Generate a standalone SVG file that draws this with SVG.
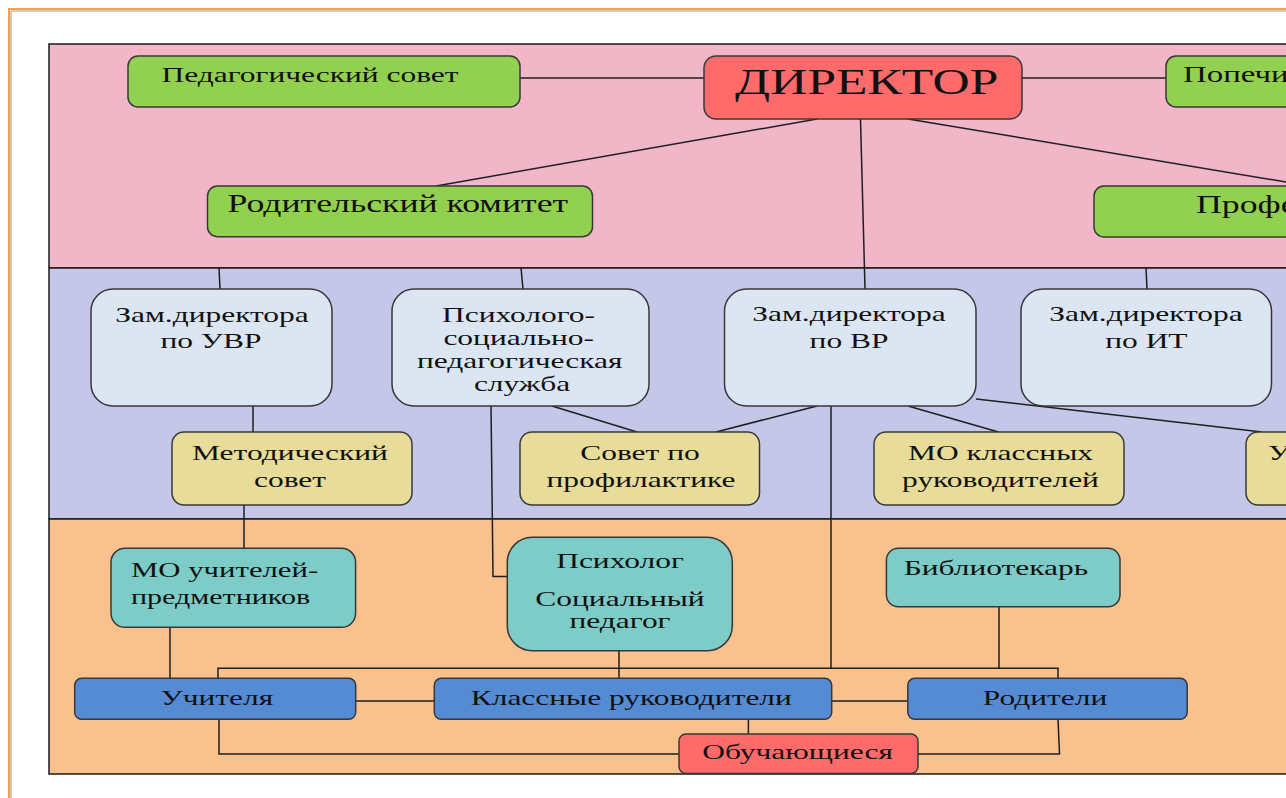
<svg xmlns="http://www.w3.org/2000/svg" width="1286" height="798" viewBox="0 0 1286 798">
<style>
.band{stroke:#1a1a1a;stroke-width:1.5}
.n{stroke:#383838;stroke-width:1.5}
.green{fill:#92D050}
.red{fill:#FF6B6B}
.lb{fill:#DCE6F2}
.kh{fill:#E7DC99}
.teal{fill:#7ECCC7}
.blue{fill:#558BD3}
.c{fill:none;stroke:#1f1f1f;stroke-width:1.5}
text{font-family:"Liberation Serif","Times New Roman",serif;font-size:22px;fill:#111;text-anchor:middle}
.s{text-anchor:start}
</style>
<rect x="0" y="0" width="1286" height="798" fill="#ffffff"/>
<path d="M9,798 V9 H1286" fill="none" stroke="#F0A24E" stroke-width="2"/>
<path d="M11,798 V11 H1286" fill="none" stroke="#9a9a9a" stroke-width="1"/>
<g id="bands">
<rect class="band" x="49" y="44" width="1300" height="224" fill="#F1B6C7"/>
<rect class="band" x="49" y="268" width="1300" height="251" fill="#C4C7E7"/>
<rect class="band" x="49" y="519" width="1300" height="255" fill="#F8C18E"/>
</g>
<g id="connectors">
<path class="c" d="M520,78 H704"/>
<path class="c" d="M1022,78 H1166"/>
<path class="c" d="M817,119 L436,186"/>
<path class="c" d="M860.5,119 L865,289"/>
<path class="c" d="M908,119 L1286,182"/>
<path class="c" d="M219,268 L220,289"/>
<path class="c" d="M521,268 L523,289"/>
<path class="c" d="M1146,268 L1147,289"/>
<path class="c" d="M253,406 V432"/>
<path class="c" d="M552,406 L637,432"/>
<path class="c" d="M817,406 L716,432"/>
<path class="c" d="M908,406 L998.5,432"/>
<path class="c" d="M976,399 L1262,432"/>
<path class="c" d="M831,406 V668.3"/>
<path class="c" d="M491,406 L493,576.5 H507.3"/>
<path class="c" d="M244,505 V548.3"/>
<path class="c" d="M170,627.3 V678.3"/>
<path class="c" d="M619,650.7 V678.3"/>
<path class="c" d="M999,606.7 V668.3"/>
<path class="c" d="M218,678.3 V668.3 H1058 V678.3"/>
<path class="c" d="M355.6,701 H434.3"/>
<path class="c" d="M831.7,701 H907.8"/>
<path class="c" d="M748.4,719.3 V734"/>
<path class="c" d="M219,719.3 V754 H679"/>
<path class="c" d="M1058,719.3 L1059.5,754 H918"/>
</g>
<g id="ped_sovet">
<rect class="n green" x="128" y="56" width="392" height="51" rx="10"/>
<text transform="matrix(1.43 0 0 1 310 82)">Педагогический совет</text>
</g>
<g id="director">
<rect class="n red" x="704" y="56" width="318" height="63" rx="12"/>
<text transform="matrix(1.43 0 0 1 866.7 94)" style="font-size:36px">ДИРЕКТОР</text>
</g>
<g id="popech">
<rect class="n green" x="1166" y="56" width="300" height="51" rx="10"/>
<text class="s" transform="matrix(1.43 0 0 1 1183 82)" style="font-size:23px">Попечительский совет</text>
</g>
<g id="rod_komitet">
<rect class="n green" x="207.5" y="186" width="385" height="50.7" rx="10"/>
<text transform="matrix(1.43 0 0 1 397.8 212)" style="font-size:25px">Родительский комитет</text>
</g>
<g id="prof">
<rect class="n green" x="1094" y="186" width="400" height="51" rx="10"/>
<text class="s" transform="matrix(1.43 0 0 1 1196 213)" style="font-size:25px">Профессиональный союз</text>
</g>
<g id="zam_uvr">
<rect class="n lb" x="91" y="289" width="241" height="117" rx="22"/>
<text transform="matrix(1.43 0 0 1 212 321.7)">Зам.директора</text>
<text transform="matrix(1.43 0 0 1 211 348.3)">по УВР</text>
</g>
<g id="psp_service">
<rect class="n lb" x="392" y="289" width="257" height="117" rx="22"/>
<text transform="matrix(1.43 0 0 1 518.5 321.7)">Психолого-</text>
<text transform="matrix(1.43 0 0 1 518.7 345)">социально-</text>
<text transform="matrix(1.43 0 0 1 519.7 368.3)">педагогическая</text>
<text transform="matrix(1.43 0 0 1 522 391)">служба</text>
</g>
<g id="zam_vr">
<rect class="n lb" x="724.5" y="289" width="251.5" height="117" rx="22"/>
<text transform="matrix(1.43 0 0 1 849 321)">Зам.директора</text>
<text transform="matrix(1.43 0 0 1 849 348.3)">по ВР</text>
</g>
<g id="zam_it">
<rect class="n lb" x="1021" y="289" width="250.5" height="117" rx="22"/>
<text transform="matrix(1.43 0 0 1 1146 321)">Зам.директора</text>
<text transform="matrix(1.43 0 0 1 1146.4 348.3)">по ИТ</text>
</g>
<g id="metod_sovet">
<rect class="n kh" x="172" y="432" width="240" height="73" rx="12"/>
<text transform="matrix(1.43 0 0 1 290 460)">Методический</text>
<text transform="matrix(1.43 0 0 1 290 487)">совет</text>
</g>
<g id="sovet_prof">
<rect class="n kh" x="520" y="432" width="239.5" height="73" rx="12"/>
<text transform="matrix(1.43 0 0 1 640 460)">Совет по</text>
<text transform="matrix(1.43 0 0 1 641 487)">профилактике</text>
</g>
<g id="mo_kl">
<rect class="n kh" x="874" y="432" width="250" height="73" rx="12"/>
<text transform="matrix(1.43 0 0 1 1000.5 460)">МО классных</text>
<text transform="matrix(1.43 0 0 1 1000.5 487)">руководителей</text>
</g>
<g id="uchen">
<rect class="n kh" x="1246" y="432" width="250" height="73" rx="12"/>
<text class="s" transform="matrix(1.43 0 0 1 1268 460)">Ученический</text>
</g>
<g id="mo_uchit">
<rect class="n teal" x="111" y="548.3" width="244.6" height="79" rx="14"/>
<text class="s" transform="matrix(1.43 0 0 1 131 576.7)" style="font-size:21.5px">МО учителей-</text>
<text class="s" transform="matrix(1.43 0 0 1 131 604)" style="font-size:21px">предметников</text>
</g>
<g id="psiholog">
<rect class="n teal" x="507.3" y="537.3" width="225" height="113.4" rx="25"/>
<text transform="matrix(1.43 0 0 1 620 567.7)">Психолог</text>
<text transform="matrix(1.43 0 0 1 620 606)">Социальный</text>
<text transform="matrix(1.43 0 0 1 620 628.3)">педагог</text>
</g>
<g id="bibl">
<rect class="n teal" x="886.4" y="548.3" width="233.6" height="58.4" rx="12"/>
<text class="s" transform="matrix(1.43 0 0 1 903.7 575)">Библиотекарь</text>
</g>
<g id="uchitelya">
<rect class="n blue" x="74.7" y="678.3" width="281" height="41" rx="7"/>
<text transform="matrix(1.43 0 0 1 216.8 705)">Учителя</text>
</g>
<g id="kl_ruk">
<rect class="n blue" x="434.3" y="678.3" width="397.4" height="41" rx="7"/>
<text transform="matrix(1.43 0 0 1 631.3 705)">Классные руководители</text>
</g>
<g id="roditeli">
<rect class="n blue" x="907.8" y="678.3" width="279.4" height="41" rx="7"/>
<text transform="matrix(1.43 0 0 1 1045 705)">Родители</text>
</g>
<g id="obuch">
<rect class="n red" x="679" y="734" width="239" height="39.5" rx="7"/>
<text transform="matrix(1.43 0 0 1 797.6 759.3)">Обучающиеся</text>
</g>
</svg>
